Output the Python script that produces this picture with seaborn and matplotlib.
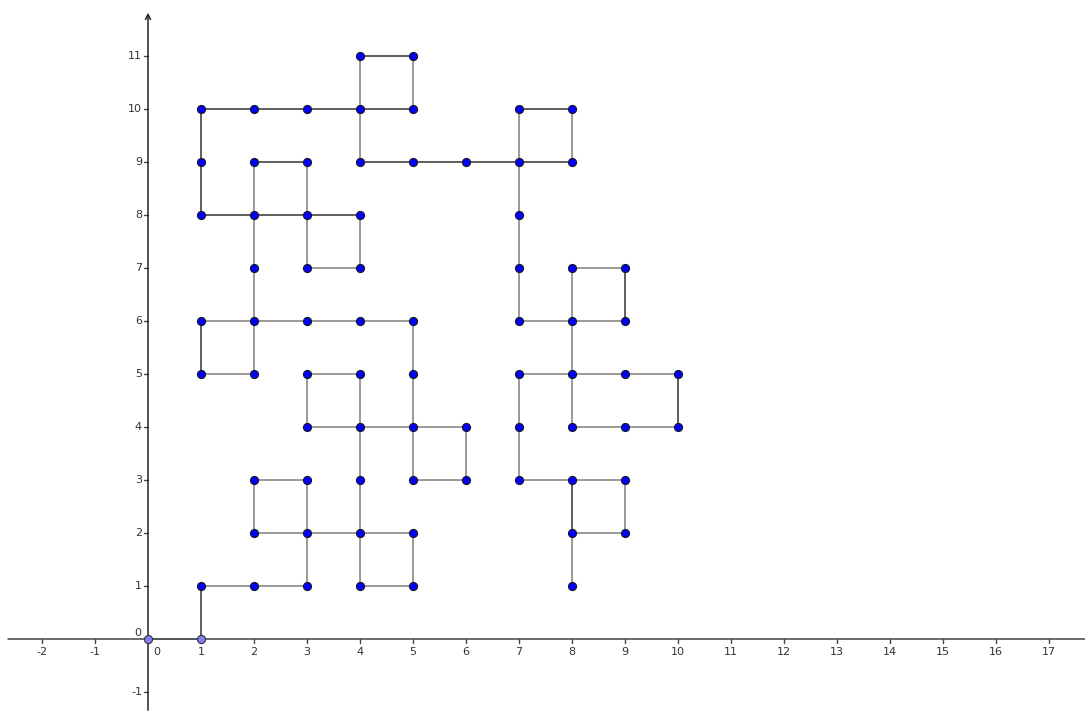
import numpy as np
import matplotlib
matplotlib.use('Agg')
import matplotlib.pyplot as plt
import seaborn as sns
from matplotlib.collections import LineCollection

# lattice nodes of the walk (blue) and the two start nodes on the x-axis (pale)
start_x = [0, 1]
start_y = [0, 0]
node_x = [4, 5,
          1, 2, 3, 4, 5, 7, 8,
          1, 2, 3, 4, 5, 6, 7, 8,
          1, 2, 3, 4, 7,
          2, 3, 4, 7, 8, 9,
          1, 2, 3, 4, 5, 7, 8, 9,
          1, 2, 3, 4, 5, 7, 8, 9, 10,
          3, 4, 5, 6, 7, 8, 9, 10,
          2, 3, 4, 5, 6, 7, 8, 9,
          2, 3, 4, 5, 8, 9,
          1, 2, 3, 4, 5, 8]
node_y = [11, 11,
          10, 10, 10, 10, 10, 10, 10,
          9, 9, 9, 9, 9, 9, 9, 9,
          8, 8, 8, 8, 8,
          7, 7, 7, 7, 7, 7,
          6, 6, 6, 6, 6, 6, 6, 6,
          5, 5, 5, 5, 5, 5, 5, 5, 5,
          4, 4, 4, 4, 4, 4, 4, 4,
          3, 3, 3, 3, 3, 3, 3, 3,
          2, 2, 2, 2, 2, 2,
          1, 1, 1, 1, 1, 1]

# segments drawn dark
dark_edges = [((1, 0), (1, 1)),
              ((1, 8), (1, 10)), ((1, 10), (5, 10)), ((4, 11), (5, 11)),
              ((4, 9), (8, 9)), ((7, 10), (8, 10)), ((1, 8), (4, 8)),
              ((2, 9), (3, 9)), ((1, 5), (1, 6)), ((9, 7), (9, 6)),
              ((10, 5), (10, 4)), ((8, 3), (8, 2))]
# segments drawn light grey
grey_edges = [((1, 1), (3, 1)), ((3, 1), (3, 3)), ((2, 2), (5, 2)),
              ((2, 2), (2, 3)), ((2, 3), (3, 3)), ((4, 1), (4, 5)), ((4, 1), (5, 1)),
              ((5, 1), (5, 2)), ((4, 5), (3, 5)), ((3, 5), (3, 4)), ((3, 4), (6, 4)),
              ((6, 4), (6, 3)), ((6, 3), (5, 3)), ((5, 3), (5, 6)), ((5, 6), (1, 6)),
              ((1, 5), (2, 5)), ((2, 5), (2, 9)), ((3, 9), (3, 7)), ((3, 7), (4, 7)),
              ((4, 7), (4, 8)), ((4, 9), (4, 11)), ((5, 11), (5, 10)), ((7, 9), (7, 10)),
              ((8, 10), (8, 9)), ((7, 9), (7, 6)), ((7, 6), (9, 6)), ((8, 6), (8, 7)),
              ((8, 7), (9, 7)), ((8, 6), (8, 4)), ((7, 5), (10, 5)), ((10, 4), (8, 4)),
              ((7, 5), (7, 3)), ((7, 3), (9, 3)), ((9, 3), (9, 2)), ((9, 2), (8, 2)),
              ((8, 2), (8, 1))]
# first step lies on the x-axis
axis_edges = [((0, 0), (1, 0))]

x_ticks = [-2, -1, 1, 2, 3, 4, 5, 6, 7, 8, 9, 10, 11, 12, 13, 14, 15, 16, 17]
y_ticks = [-1, 1, 2, 3, 4, 5, 6, 7, 8, 9, 10, 11]

sns.set_style('white')
plt.rcParams['font.family'] = ['DejaVu Sans']

fig = plt.figure(figsize=(10.85, 7.13), dpi=100)
ax = fig.add_axes([0, 0, 1, 1])
ax.set_xlim(-148 / 53, 937 / 53)
ax.set_ylim(-74 / 53, 639 / 53)
ax.axis('off')

axis_col = '#444444'
txt_col = '#333333'
tick = 4 / 53
# axes
ax.plot([-140 / 53, 937 / 53], [0, 0], color=axis_col, lw=1.1, zorder=1)
ax.annotate('', xy=(0, 629 / 53), xytext=(0, -74 / 53),
            arrowprops=dict(arrowstyle='->', color='#222222', lw=1.1, mutation_scale=9))
for t in x_ticks:
    ax.plot([t, t], [0, -tick], color=axis_col, lw=1, zorder=1)
    ax.text(t, -13 / 53, f'{t}', ha='center', va='center', fontsize=8, color=txt_col)
for t in y_ticks:
    ax.plot([0, -tick], [t, t], color=axis_col, lw=1, zorder=1)
    ax.text(-6 / 53, t, f'{t}', ha='right', va='center', fontsize=8, color=txt_col)
ax.text(9 / 53, -13 / 53, '0', ha='center', va='center', fontsize=8, color=txt_col)
ax.text(-10 / 53, 6 / 53, '0', ha='center', va='center', fontsize=8, color=txt_col)

ax.add_collection(LineCollection(axis_edges, colors='#9a9a9a', linewidths=1.4, zorder=0))
ax.add_collection(LineCollection(grey_edges, colors='#9a9a9a', linewidths=1.4, zorder=2))
ax.add_collection(LineCollection(dark_edges, colors='#333333', linewidths=1.1, zorder=2))

sns.scatterplot(x=node_x, y=node_y, ax=ax, s=34, color='#0000ff',
                edgecolor='#1a1a1a', linewidth=0.8, zorder=3, legend=False)
sns.scatterplot(x=start_x, y=start_y, ax=ax, s=34, color='#8080f0',
                edgecolor='#333333', linewidth=0.8, zorder=3, legend=False)

fig.savefig('out.png', dpi=100)
